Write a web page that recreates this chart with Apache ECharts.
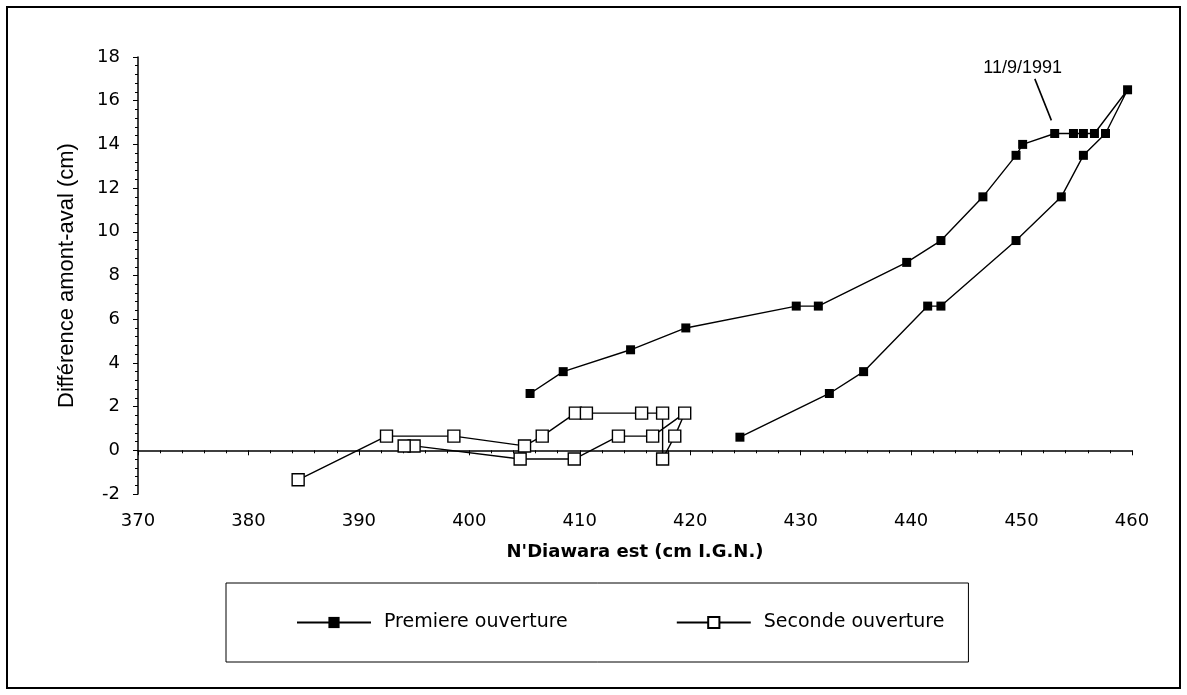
<!DOCTYPE html>
<html>
<head>
<meta charset="utf-8">
<script src="https://cdn.jsdelivr.net/npm/echarts@6/dist/echarts.min.js"></script>
<style>html,body{margin:0;padding:0;background:#fff;}#c{width:1187px;height:695px;}</style>
</head>
<body>
<div id="c"></div>
<script>
// Series names
const seriesNames = ['Premiere ouverture', 'Seconde ouverture'];
// Premiere ouverture: x (N'Diawara est, cm IGN) and y (difference amont-aval, cm), in drawing order
const premX = [405.5, 408.5, 414.6, 419.6, 429.6, 431.6, 439.6, 442.7, 446.5, 449.5, 450.1, 453.0, 454.7, 455.6, 456.6, 459.6, 457.6, 455.6, 453.6, 449.5, 442.7, 441.5, 435.7, 432.6, 424.5];
const premY = [2.6, 3.6, 4.6, 5.6, 6.6, 6.6, 8.6, 9.6, 11.6, 13.5, 14.0, 14.5, 14.5, 14.5, 14.5, 16.5, 14.5, 13.5, 11.6, 9.6, 6.6, 6.6, 3.6, 2.6, 0.6];
// Seconde ouverture
const secX = [384.5, 392.5, 398.6, 405.0, 406.6, 409.6, 410.6, 415.6, 417.5, 417.5, 418.6, 419.5, 416.6, 413.5, 409.5, 404.6, 395.0, 394.1];
const secY = [-1.35, 0.65, 0.65, 0.2, 0.65, 1.7, 1.7, 1.7, 1.7, -0.4, 0.65, 1.7, 0.65, 0.65, -0.4, -0.4, 0.2, 0.2];
// Axis ranges / ticks
const xMin = 370, xMax = 460, xStep = 10;
const yMin = -2, yMax = 18, yStep = 2;
// Annotation
const annotText = '11/9/1991';
const annotLabelAt = [450.1, 17.5];
const annotLine = [[451.2, 17.0], [452.7, 15.1]];

const zip = (xs, ys) => xs.map((x, i) => [x, ys[i]]);
const chart = echarts.init(document.getElementById('c'), null, {renderer: 'canvas'});
const axisFont = 'DejaVu Sans';
chart.setOption({
  animation: false,
  backgroundColor: '#fff',
  graphic: [{
    type: 'rect', shape: {x: 7, y: 7, width: 1173, height: 681},
    style: {fill: 'none', stroke: '#000', lineWidth: 2}, silent: true, z: -1
  }],
  grid: {left: 138, right: 55, top: 57, bottom: 201, containLabel: false},
  legend: {
    left: 226, top: 583,
    padding: [30, 24, 30, 70],
    borderColor: '#000', borderWidth: 1,
    itemWidth: 74, itemHeight: 14, itemGap: 108,
    textStyle: {fontFamily: axisFont, fontSize: 19, color: '#000', padding: [0, 0, 0, 8]},
    data: seriesNames
  },
  xAxis: [{
    type: 'value', min: xMin, max: xMax, interval: xStep, position: 'bottom',
    axisLine: {show: false, onZero: false}, axisTick: {show: false}, splitLine: {show: false},
    axisLabel: {color: '#000', fontFamily: axisFont, fontSize: 18, margin: 18},
    name: "N'Diawara est (cm I.G.N.)", nameLocation: 'middle', nameGap: 49,
    nameTextStyle: {color: '#000', fontFamily: axisFont, fontSize: 18, fontWeight: 'bold'}
  }, {
    type: 'value', min: xMin, max: xMax, interval: xStep, position: 'top',
    axisLine: {show: true, onZero: true, onZeroAxisIndex: 0, lineStyle: {color: '#000', width: 1.5}},
    axisTick: {show: true, inside: true, length: 5, lineStyle: {color: '#000', width: 1}},
    minorTick: {show: true, splitNumber: 5, length: 3, lineStyle: {color: '#000', width: 1}},
    axisLabel: {show: false}, splitLine: {show: false}
  }],
  yAxis: {
    type: 'value', min: yMin, max: yMax, interval: yStep,
    axisLine: {show: true, onZero: false, lineStyle: {color: '#000', width: 1.5}},
    axisTick: {show: true, length: 5, lineStyle: {color: '#000', width: 1}},
    minorTick: {show: true, splitNumber: 5, length: 3, lineStyle: {color: '#000', width: 1}},
    splitLine: {show: false},
    axisLabel: {color: '#000', fontFamily: axisFont, fontSize: 18, margin: 18},
    name: 'Différence amont-aval (cm)', nameLocation: 'middle', nameRotate: 90, nameGap: 60,
    nameTextStyle: {color: '#000', fontFamily: 'Liberation Sans Narrow, Liberation Sans, sans-serif', fontSize: 22}
  },
  series: [{
    name: seriesNames[0], type: 'line', xAxisIndex: 0, data: zip(premX, premY),
    symbol: 'rect', symbolSize: 9, showAllSymbol: true,
    lineStyle: {color: '#000', width: 1.4},
    itemStyle: {color: '#000', borderColor: '#000', borderWidth: 0},
    markLine: {
      silent: true, symbol: ['none', 'none'], animation: false,
      lineStyle: {color: '#000', width: 1.6, type: 'solid'}, label: {show: false},
      data: [[{coord: annotLine[0]}, {coord: annotLine[1]}]]
    },
    markPoint: {
      silent: true, symbol: 'circle', symbolSize: 0, animation: false,
      label: {show: true, position: 'inside', formatter: annotText, color: '#000', fontFamily: 'Liberation Sans', fontSize: 18},
      data: [{coord: annotLabelAt}]
    },
    z: 3
  }, {
    name: seriesNames[1], type: 'line', xAxisIndex: 0, data: zip(secX, secY),
    symbol: 'rect', symbolSize: 12, showAllSymbol: true,
    lineStyle: {color: '#000', width: 1.4},
    itemStyle: {color: '#fff', borderColor: '#000', borderWidth: 1.4},
    z: 4
  }]
});
</script>
</body>
</html>
